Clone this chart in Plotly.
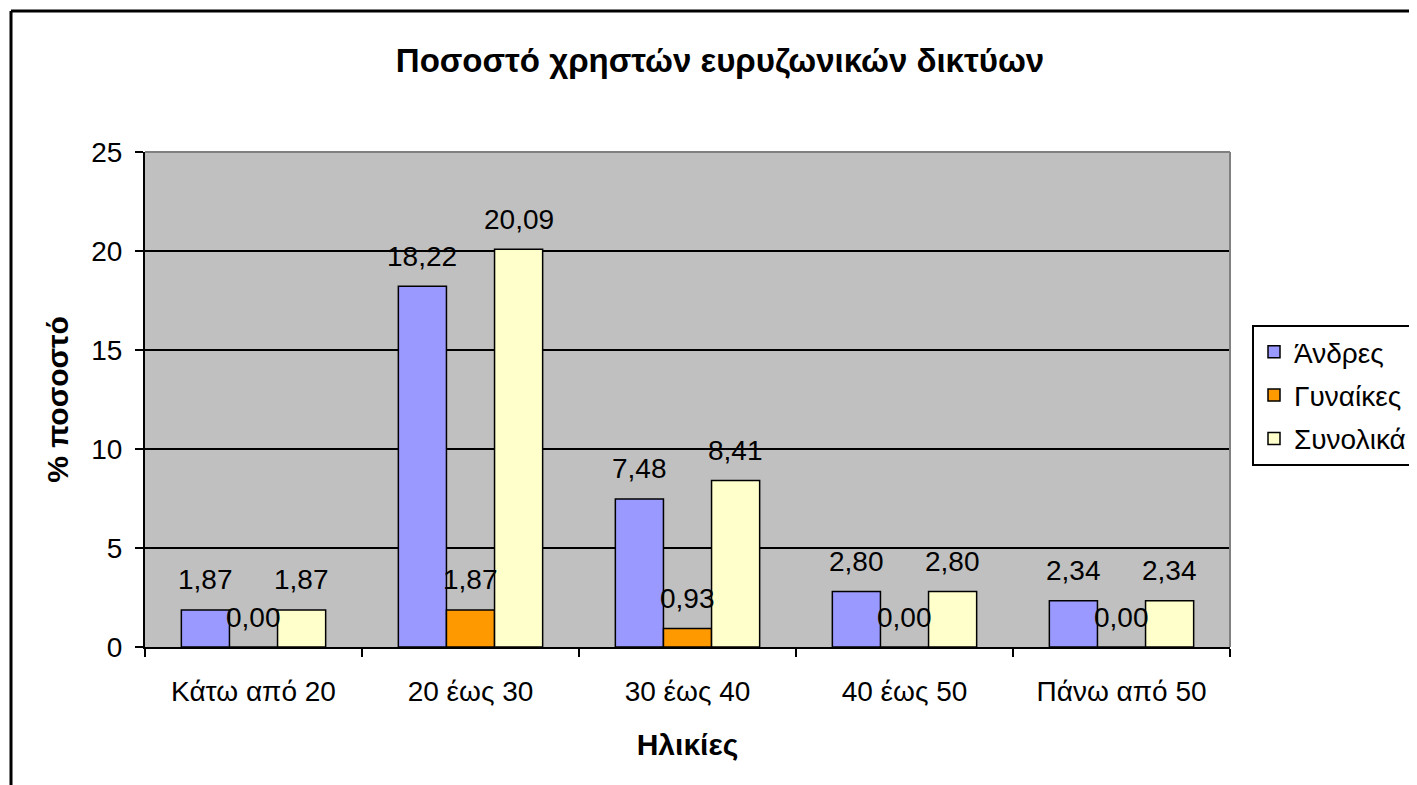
import plotly.graph_objects as go

# Data
categories = ['Κάτω από 20', '20 έως 30', '30 έως 40', '40 έως 50', 'Πάνω από 50']
andres = [1.87, 18.22, 7.48, 2.80, 2.34]
gynaikes = [0.00, 1.87, 0.93, 0.00, 0.00]
synolika = [1.87, 20.09, 8.41, 2.80, 2.34]
series_names = ['Άνδρες', 'Γυναίκες', 'Συνολικά']
series_colors = ['#9999FF', '#FF9900', '#FFFFCC']
y_ticks = [0, 5, 10, 15, 20, 25]

# the page body has an 8px margin, so the figure is shifted by that much
OFF = 8
W, H = 1417 - OFF, 785 - OFF
ML, MR, MT, MB = 145 - OFF, 187, 152 - OFF, 138
PW = W - ML - MR
PH = H - MT - MB
FONT = 'Liberation Sans, Arial, sans-serif'


def px_x(x):
    # screen pixel -> paper x
    return (x - OFF - ML) / PW


def px_y(y):
    # screen pixel -> paper y
    return (H - MB - (y - OFF)) / PH


fig = go.Figure()
for name, vals, col in zip(series_names, [andres, gynaikes, synolika], series_colors):
    fig.add_trace(go.Bar(
        x=categories, y=vals, name=name,
        marker=dict(color=col, line=dict(color='black', width=1.5)),
        legendgroup=name,
    ))

# Data labels above bars
bar_px = PW / len(categories) * (1 - 0.335) / 3
for i, vals in enumerate([andres, gynaikes, synolika]):
    for cat, v in zip(categories, vals):
        fig.add_annotation(
            x=cat, y=v, text=f'{v:.2f}'.replace('.', ','),
            showarrow=False, xshift=(i - 1) * bar_px, yshift=30,
            yanchor='middle', font=dict(size=28, color='black', family=FONT),
        )

shapes = [
    # outer chart border (top and left)
    dict(type='line', xref='paper', yref='paper', x0=px_x(11), x1=px_x(1500),
         y0=px_y(11), y1=px_y(11), line=dict(color='black', width=3)),
    dict(type='line', xref='paper', yref='paper', x0=px_x(11), x1=px_x(11),
         y0=px_y(11), y1=px_y(900), line=dict(color='black', width=3)),
    # grey plot-area frame on top and right
    dict(type='line', xref='paper', yref='paper', x0=0, x1=1, y0=1, y1=1,
         line=dict(color='#808080', width=2)),
    dict(type='line', xref='paper', yref='paper', x0=1, x1=1, y0=0, y1=1,
         line=dict(color='#808080', width=2)),
]

fig.update_layout(
    width=W, height=H,
    margin=dict(l=ML, r=MR, t=MT, b=MB, autoexpand=False),
    paper_bgcolor='white', plot_bgcolor='#C0C0C0',
    font=dict(family=FONT, size=28, color='black'),
    barmode='group', bargap=0.335, bargroupgap=0,
    title=dict(text='<b>Ποσοστό χρηστών ευρυζωνικών δικτύων</b>',
               x=px_x(720), xref='paper', xanchor='center',
               y=1 - (60 - OFF) / H, yref='container', yanchor='middle',
               font=dict(size=33, family=FONT)),
    legend=dict(x=px_x(1252), y=px_y(325), xanchor='left', yanchor='top',
                bordercolor='black', borderwidth=2, bgcolor='white',
                font=dict(size=28, family=FONT), tracegroupgap=4,
                traceorder='grouped'),
    shapes=shapes,
    showlegend=True,
)

fig.update_xaxes(
    type='category', showline=True, linecolor='black', linewidth=2,
    ticks='outside', tickson='boundaries', ticklen=8, tickwidth=2, tickcolor='black',
    ticklabelstandoff=18, showgrid=False,
    title=dict(text='<b>Ηλικίες</b>', standoff=28, font=dict(size=30)),
)
fig.update_yaxes(
    range=[0, 25], tickvals=y_ticks, showline=True, linecolor='black', linewidth=2,
    ticks='outside', ticklen=8, tickwidth=2, tickcolor='black', ticklabelstandoff=7,
    showgrid=True, gridcolor='black', gridwidth=1.5, zeroline=False,
    title=dict(text='<b>% ποσοστό</b>', standoff=14, font=dict(size=30)),
)

fig.write_html('out.html')
